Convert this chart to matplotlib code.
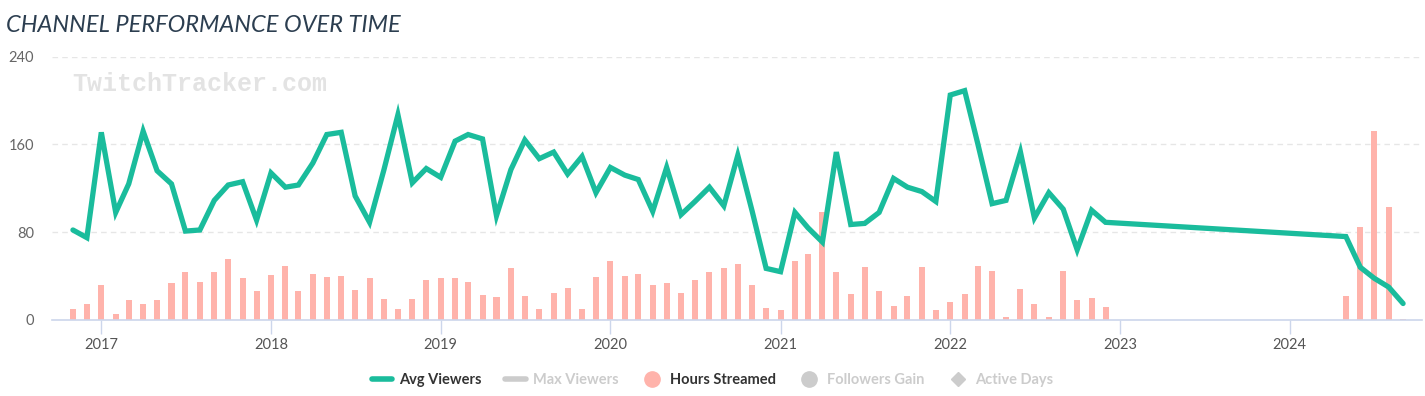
import numpy as np
import pandas as pd
import matplotlib
matplotlib.use("Agg")
import matplotlib.pyplot as plt
import matplotlib.dates as mdates
from matplotlib.lines import Line2D

plt.rcParams['font.family'] = ['Lato', 'DejaVu Sans']

# monthly data, Nov 2016 - Dec 2022, then May 2024 - Sep 2024
months_a = pd.date_range("2016-11-01", "2022-12-01", freq="MS")
months_b = pd.date_range("2024-05-01", "2024-09-01", freq="MS")
months = months_a.append(months_b)

avg_viewers = [
    82, 75,
    171, 98, 124, 172, 136, 124, 81, 82, 109, 123, 126, 91,
    134, 121, 123, 143, 169, 171, 113, 89, 137, 187, 125, 138,
    130, 163, 169, 165, 95, 137, 164, 147, 153, 133, 149, 116,
    139, 132, 128, 99, 139, 96, 108, 121, 104, 150, 99, 47,
    44, 98, 84, 71, 153, 87, 88, 98, 129, 121, 117, 108,
    205, 209, 161, 106, 109, 153, 93, 116, 101, 64, 100, 89,
    76, 48, 38, 30, 15,
]

# hours streamed (drawn on the same scale as the viewers axis)
hours_streamed = [
    10, 15,
    32, 5, 18, 15, 18, 34, 44, 35, 44, 56, 38, 26,
    41, 49, 26, 42, 39, 40, 27, 38, 19.5, 10, 19.5, 36.5,
    38, 38, 35, 23, 21, 47, 22, 10, 25, 29, 10, 39,
    54, 40, 42, 32, 34, 25, 36.5, 43.5, 47, 51, 32, 11,
    9, 53.5, 60.5, 98, 43.5, 24, 48, 26, 12.5, 22, 48, 9,
    16, 24, 49, 45, 3, 28, 15, 3, 45, 18.5, 20, 12,
    22, 85, 172, 103, 0.5,
]

yticks = [0, 80, 160, 240]
years = [2017, 2018, 2019, 2020, 2021, 2022, 2023, 2024]

teal = "#1abc9c"
salmon = "#ffb3ab"
faded = "#cccccc"

fig = plt.figure(figsize=(14.25, 3.96), dpi=100)
ax = fig.add_axes([0.0365, 0.192, 0.9615, 0.665])

ax.bar(months, hours_streamed, width=13, color=salmon, zorder=2)
ax.plot(months, avg_viewers, color=teal, lw=3.8, solid_joinstyle="miter",
        solid_capstyle="round", zorder=3)

ax.set_ylim(0, 240)
ax.set_xlim(pd.Timestamp("2016-09-17"), pd.Timestamp("2024-10-12"))
ax.set_yticks(yticks)
ax.set_yticklabels([str(v) for v in yticks])
ax.set_xticks([pd.Timestamp(f"{y}-01-01") for y in years])
ax.set_xticklabels([str(y) for y in years])

for v in yticks[1:]:
    ax.axhline(v, color="#e6e6e6", lw=1, ls=(0, (4, 3)), zorder=0)

for s in ["top", "right", "left"]:
    ax.spines[s].set_visible(False)
ax.spines["bottom"].set_color("#ccd6eb")
ax.spines["bottom"].set_linewidth(1.2)
ax.tick_params(axis="y", length=0, pad=13, labelsize=10.5, labelcolor="#666666")
ax.tick_params(axis="x", length=10, width=1, color="#ccd6eb", pad=3,
               labelsize=10.5, labelcolor="#555555")

fig.text(0.004, 0.936, "CHANNEL PERFORMANCE OVER TIME", fontsize=17,
         style="italic", color="#2c3e50", va="center", ha="left")
fig.text(0.051, 0.787, "TwitchTracker.com", fontsize=18, fontweight="bold",
         family="Liberation Mono", color="#e3e3e3", va="center", ha="left")

handles = [
    Line2D([], [], color=teal, lw=4, solid_capstyle="round"),
    Line2D([], [], color=faded, lw=4, solid_capstyle="round"),
    Line2D([], [], color=salmon, marker="o", ls="", markersize=11),
    Line2D([], [], color=faded, marker="o", ls="", markersize=11),
    Line2D([], [], color=faded, marker="D", ls="", markersize=7),
]
labels = ["Avg Viewers", "Max Viewers", "Hours Streamed", "Followers Gain", "Active Days"]
leg = fig.legend(handles, labels, loc="center", bbox_to_anchor=(0.5, 0.04),
                 ncol=5, frameon=False, handlelength=1.4, columnspacing=1.6,
                 handletextpad=0.5, prop={"weight": "bold", "size": 10.5})
for t, c in zip(leg.get_texts(), ["#333333", faded, "#333333", faded, faded]):
    t.set_color(c)

fig.savefig("out.png", dpi=100)
